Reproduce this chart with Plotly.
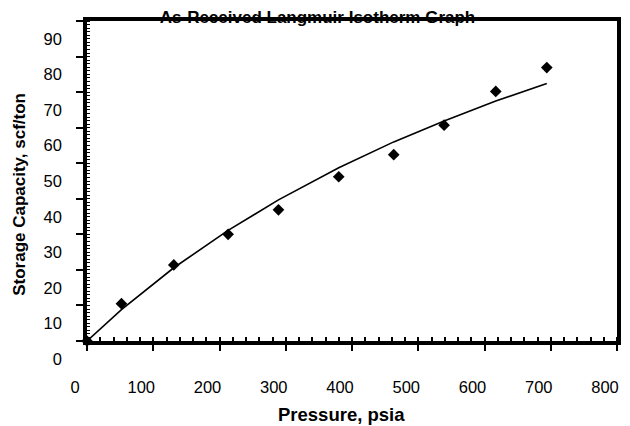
import plotly.graph_objects as go

# Data
pressure = [0, 52, 131, 213, 289, 380, 463, 539, 617, 694]
capacity = [0, 10.5, 21.4, 30.0, 36.9, 46.2, 52.4, 60.7, 70.2, 76.9]
langmuir_fit = [0, 8.8, 20.6, 31.1, 39.7, 48.7, 56.0, 61.9, 67.5, 72.4]

title_text = "As-Received Langmuir Isotherm Graph"
x_title = "Pressure, psia"
y_title = "Storage Capacity, scf/ton"

FONT = "Arial, Liberation Sans, sans-serif"

# the page body has an 8px margin, so the figure starts at (8, 8) on screen
PAGE_OFF = 8
W, H = 630 - PAGE_OFF, 426 - PAGE_OFF
L, R, T, B = 79, 13, 9, 85
pw, ph = W - L - R, H - T - B


def px_to_paper_x(screen_px):
    return (screen_px - PAGE_OFF - L) / pw


def px_to_paper_y(screen_py):
    return (H - B - (screen_py - PAGE_OFF)) / ph


fig = go.Figure()
fig.add_trace(go.Scatter(
    x=pressure, y=langmuir_fit, mode="lines",
    line=dict(color="black", width=1.6),
    cliponaxis=False, showlegend=False, hoverinfo="skip",
))
fig.add_trace(go.Scatter(
    x=pressure, y=capacity, mode="markers",
    marker=dict(symbol="diamond", size=9, color="black"),
    cliponaxis=False, showlegend=False,
))

fig.update_layout(
    width=W, height=H,
    margin=dict(l=L, r=R, t=T, b=B),
    paper_bgcolor="white", plot_bgcolor="white",
    font=dict(family=FONT, color="black"),
    title=dict(
        text=title_text,
        font=dict(size=17, weight="bold", family=FONT, color="black"),
        xref="paper", x=px_to_paper_x(317.5), xanchor="center",
        yref="container", y=1 - (17 - PAGE_OFF) / H, yanchor="middle",
    ),
    xaxis=dict(
        range=[0, 800], tick0=0, dtick=100,
        showline=True, linecolor="black", linewidth=3.5, mirror=True,
        ticks="outside", ticklen=6, tickwidth=2, tickcolor="black",
        minor=dict(dtick=20, ticks="inside", ticklen=4, tickwidth=1.5, tickcolor="black", showgrid=False),
        showgrid=False, zeroline=False,
        tickfont=dict(size=16.5, family=FONT, color="black"),
        ticklabelshift=-12, ticklabelstandoff=22,
    ),
    yaxis=dict(
        range=[0, 90], tick0=0, dtick=10,
        showline=True, linecolor="black", linewidth=3.5, mirror=True,
        ticks="outside", ticklen=7, tickwidth=2, tickcolor="black",
        minor=dict(dtick=1, ticks="inside", ticklen=3, tickwidth=1.2, tickcolor="black", showgrid=False),
        showgrid=False, zeroline=False,
        tickfont=dict(size=16.5, family=FONT, color="black"),
        ticklabelshift=18, ticklabelstandoff=11,
    ),
    annotations=[
        dict(text=x_title, xref="paper", yref="paper",
             x=px_to_paper_x(341), y=px_to_paper_y(415),
             xanchor="center", yanchor="middle", showarrow=False,
             font=dict(size=18.5, weight="bold", family=FONT, color="black")),
        dict(text=y_title, xref="paper", yref="paper",
             x=px_to_paper_x(20), y=px_to_paper_y(193),
             xanchor="center", yanchor="middle", showarrow=False, textangle=-90,
             font=dict(size=17, weight="bold", family=FONT, color="black")),
    ],
)

fig.write_html("out.html")
